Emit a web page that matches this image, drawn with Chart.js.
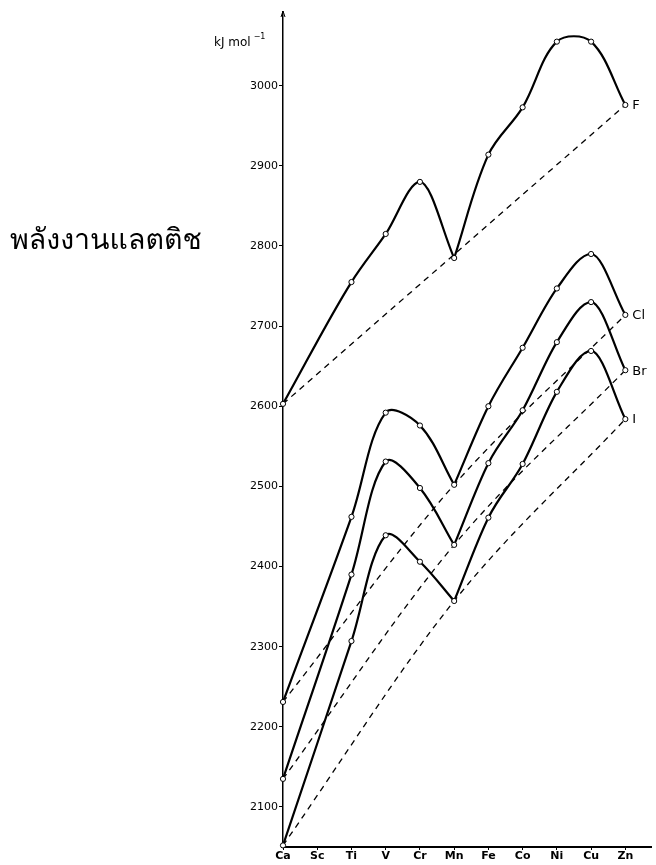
<!DOCTYPE html>
<html>
<head>
<meta charset="utf-8">
<script src="https://cdn.jsdelivr.net/npm/chart.js@4.4.1/dist/chart.umd.min.js"></script>
<style>
  html, body { margin: 0; padding: 0; background: #fff; }
  #wrap { position: relative; width: 656px; height: 865px; }
  #side-title {
    position: absolute; left: 10px; top: 216px;
    font-family: "Loma", "Garuda", "Norasi", "Kinnari", "Noto Sans Thai Looped", "Noto Serif Thai", "Noto Sans Thai", "Noto Sans", sans-serif;
    font-size: 28.5px; color: #000; white-space: nowrap;
  }
</style>
</head>
<body>
<div id="wrap">
  <canvas id="chart" width="656" height="865"></canvas>
  <div id="side-title">พลังงานแลตติช</div>
</div>
<script>
// --- DATA ---
const elements = ['Ca', 'Sc', 'Ti', 'V', 'Cr', 'Mn', 'Fe', 'Co', 'Ni', 'Cu', 'Zn'];
const yTickValues = [2100, 2200, 2300, 2400, 2500, 2600, 2700, 2800, 2900, 3000];

// lattice energies in kJ/mol, one per element (null = no measured point)
const fluoride = [2603, null, 2755, 2815, 2880, 2785, 2914, 2973, 3055, 3055, 2976];
const chloride = [2231, null, 2462, 2592, 2576, 2502, 2600, 2673, 2747, 2790, 2714];
const bromide  = [2135, null, 2390, 2531, 2498, 2427, 2529, 2595, 2680, 2730, 2645];
const iodide   = [2052, null, 2307, 2439, 2406, 2357, 2461, 2528, 2618, 2669, 2584];

// which elements the dashed reference curves go through
const fluorideBaseIdx = [0, 10];
const otherBaseIdx = [0, 5, 10];

const series = [
  { label: 'F',  values: fluoride, base: fluorideBaseIdx },
  { label: 'Cl', values: chloride, base: otherBaseIdx },
  { label: 'Br', values: bromide,  base: otherBaseIdx },
  { label: 'I',  values: iodide,   base: otherBaseIdx },
];

// --- HELPERS ---
const toPoints = (values, from, to) => {
  const out = [];
  for (let i = from; i <= to; i++) {
    if (values[i] !== null) out.push({ x: i, y: values[i] });
  }
  return out;
};
const pick = (values, idx) => idx.map(i => ({ x: i, y: values[i] }));

const datasets = [];
series.forEach(s => {
  // two smooth pieces meeting in a cusp at Mn
  [[0, 5], [5, 10]].forEach(([a, b]) => {
    // pieces whose maximum lies between two points get a bezier, the rest monotone
    const isF = s.label === 'F';
    const bezier = (isF && a === 5) || (!isF && a === 0);
    datasets.push({
      data: toPoints(s.values, a, b),
      borderColor: '#000', borderWidth: 2.2,
      tension: bezier ? 0.35 : 0,
      cubicInterpolationMode: bezier ? 'default' : 'monotone',
      pointRadius: 0, showLine: true, clip: false, order: 2,
    });
  });
  datasets.push({
    data: pick(s.values, s.base),
    borderColor: '#000', borderWidth: 1.3, borderDash: [6, 5],
    cubicInterpolationMode: 'monotone',
    pointRadius: 0, showLine: true, clip: false, order: 3,
  });
  datasets.push({
    data: toPoints(s.values, 0, 10),
    showLine: false, pointRadius: 2.6, pointBorderWidth: 1,
    pointBackgroundColor: '#fff', pointBorderColor: '#000', clip: false, order: 1,
  });
});

// end labels, unit text and the little arrow on the value axis
const labelPlugin = {
  id: 'labels',
  afterDatasetsDraw(chart) {
    const { ctx, chartArea, scales: { x, y } } = chart;
    ctx.save();
    ctx.fillStyle = '#000';
    ctx.textBaseline = 'middle';
    ctx.font = '13px "DejaVu Sans", sans-serif';
    series.forEach(s => {
      const last = s.values.length - 1;
      ctx.fillText(s.label, x.getPixelForValue(last) + 7, y.getPixelForValue(s.values[last]) + 1);
    });
    // unit
    ctx.font = '12px "DejaVu Sans", sans-serif';
    ctx.fillText('kJ mol', 214, 43);
    const w = ctx.measureText('kJ mol').width;
    ctx.font = '8px "DejaVu Sans", sans-serif';
    ctx.fillText('−1', 214 + w + 3, 37);
    // arrow tip
    ctx.beginPath();
    ctx.moveTo(chartArea.left - 2, chartArea.top + 5);
    ctx.lineTo(chartArea.left, chartArea.top - 1);
    ctx.lineTo(chartArea.left + 2, chartArea.top + 5);
    ctx.lineWidth = 1;
    ctx.stroke();
    ctx.restore();
  }
};

new Chart(document.getElementById('chart'), {
  type: 'scatter',
  data: { datasets },
  plugins: [labelPlugin],
  options: {
    responsive: false,
    animation: false,
    layout: { padding: { top: 12, right: 0, bottom: 0, left: 0 } },
    plugins: { legend: { display: false }, tooltip: { enabled: false } },
    scales: {
      x: {
        type: 'linear', min: 0, max: 10.75,
        afterBuildTicks: scale => { scale.ticks = elements.map((e, i) => ({ value: i })); },
        afterFit: scale => { scale.height = 18; },
        grid: { display: true, drawOnChartArea: false, color: '#000', tickLength: 3 },
        border: { color: '#000', width: 2 },
        ticks: {
          color: '#000', padding: 0, maxRotation: 0, autoSkip: false,
          font: { family: 'DejaVu Sans', size: 11, weight: 'bold' },
          callback: v => elements[v],
        },
      },
      y: {
        type: 'linear', min: 2050, max: 3092,
        afterBuildTicks: scale => { scale.ticks = yTickValues.map(v => ({ value: v })); },
        afterFit: scale => { scale.width = 283; },
        grid: { display: true, drawOnChartArea: false, color: '#000', tickLength: 4 },
        border: { color: '#000', width: 1.5 },
        ticks: {
          color: '#000', padding: 1,
          font: { family: 'DejaVu Sans', size: 11 },
          callback: v => String(v),
        },
      },
    },
  },
});
</script>
</body>
</html>
